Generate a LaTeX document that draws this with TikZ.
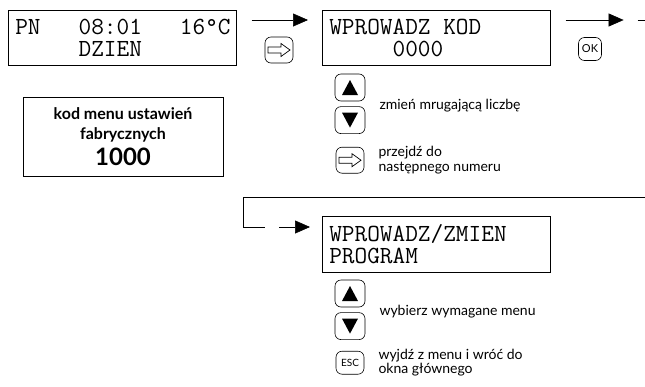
\documentclass[tikz,border=0pt]{standalone}
\usepackage{fontspec}
\setmainfont{Lato}
\usetikzlibrary{arrows.meta,positioning,calc}

\tikzset{
  lcd/.style={draw,line width=0.6pt,anchor=north west,minimum height=55pt,text width=214pt,inner xsep=7pt,align=left,font=\ttfamily\fontsize{24.6}{22}\selectfont},
  key/.style={draw,line width=0.6pt,rounded corners=6pt,minimum width=30pt,minimum height=27pt,inner sep=0pt},
  upkey/.style={key,path picture={\fill[sharp corners] (path picture bounding box.center) ++(0,-7.5) -- ++(8,15) -- ++(-16,0) -- cycle;}},
  downkey/.style={key,path picture={\fill[sharp corners] (path picture bounding box.center) ++(0,7.5) -- ++(8,-15) -- ++(-16,0) -- cycle;}},
  nextkey/.style={key,minimum width=28pt,minimum height=26pt,path picture={\draw[sharp corners,line width=0.7pt] (path picture bounding box.center) ++(-11,-3) -- ++(13,0) -- ++(0,-3.5) -- ++(9,6.5) -- ++(-9,6.5) -- ++(0,-3.5) -- ++(-13,0) -- cycle;}},
  lbl/.style={anchor=west,inner sep=0pt,align=left,font=\fontsize{14}{14.5}\selectfont},
  line/.style={line width=0.6pt},
  arr/.style={line,-{Triangle[length=15pt,width=13pt]}}
}

\begin{document}
\begin{tikzpicture}[x=1pt,y=-1pt]
  \useasboundingbox (0,0) rectangle (645,386);
  % displays
  \node[lcd] (lcd1) at (8,10) {PN\hphantom{000}08:01\hphantom{000}16°C\\\hphantom{00000}DZIEN};
  \node[lcd] (lcd2) at (322,10) {WPROWADZ\hphantom{0}KOD\\\hphantom{00000}0000};
  \node[lcd,minimum height=56pt] (lcd3) at (322,216) {WPROWADZ/ZMIEN\\PROGRAM};
  \node[draw,line width=0.6pt,minimum width=200pt,minimum height=79pt,align=center,font=\bfseries\fontsize{16}{20}\selectfont] (fab) at (123,136.5) {kod menu ustawień\\fabrycznych\\[5pt]{\fontsize{24}{24}\selectfont 1000}};

  % keys
  \node[nextkey] (nk1) at (279,50) {};
  \node[key,minimum width=23pt,minimum height=23pt,font=\fontsize{11}{11}\selectfont] (ok) at (590,49) {OK};
  \node[upkey] (up2) at (350,87.5) {};
  \node[downkey,below=5pt of up2] (dn2) {};
  \node[nextkey,below=13pt of dn2] (nk2) {};
  \node[upkey] (up3) at (350,293.5) {};
  \node[downkey,below=5pt of up3] (dn3) {};
  \node[key,minimum width=28pt,minimum height=23pt,font=\fontsize{10}{10}\selectfont,below=11pt of dn3] (esc) {ESC};

  % labels
  \node[lbl] (l1) at ([xshift=14pt,yshift=-2pt]$(up2.east)!0.5!(dn2.east)$) {zmień mrugającą liczbę};
  \node[lbl,right=14pt of nk2] (l2) {przejdź do\\następnego numeru};
  \node[lbl] (l3) at ([xshift=14pt,yshift=-2pt]$(up3.east)!0.5!(dn3.east)$) {wybierz wymagane menu};
  \node[lbl,right=14pt of esc] (l4) {wyjdź z menu i wróć do\\okna głównego};

  % connectors
  \coordinate (out2) at (645,20);
  \coordinate (in3) at (645,197);
  \draw[arr] ([xshift=15pt,yshift=-10pt]lcd1.north east) -- ([xshift=-14pt,yshift=-10pt]lcd2.north west);
  \draw[arr] ([xshift=15pt,yshift=-10pt]lcd2.north east) -- ([xshift=73pt,yshift=-10pt]lcd2.north east);
  \draw[line] ([xshift=87pt,yshift=-10pt]lcd2.north east) -- (out2);
  \draw[line] (in3) -| ([xshift=-79pt,yshift=-11pt]lcd3.north west) -- ++(22,0);
  \draw[arr] ([xshift=-43pt,yshift=-11pt]lcd3.north west) -- ([xshift=-12pt,yshift=-11pt]lcd3.north west);
\end{tikzpicture}
\end{document}
